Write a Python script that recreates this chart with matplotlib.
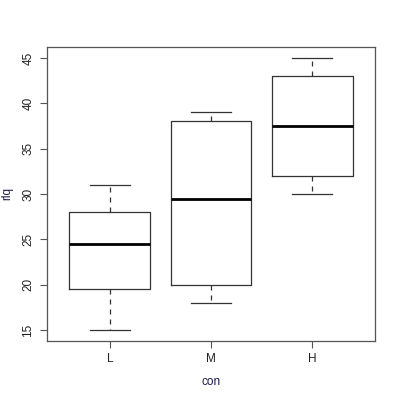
import matplotlib
matplotlib.use('agg')
import matplotlib.pyplot as plt

# boxplot stats
groups = ["L", "M", "H"]
whislo = [15, 18, 30]
q1 = [19.5, 20, 32]
med = [24.5, 29.5, 37.5]
q3 = [28, 38, 43]
whishi = [31, 39, 45]

plt.rcParams['font.family'] = ['Liberation Sans', 'DejaVu Sans']

stats = []
for i, g in enumerate(groups):
    stats.append({"label": g, "whislo": whislo[i], "q1": q1[i], "med": med[i],
                  "q3": q3[i], "whishi": whishi[i], "fliers": []})

fig = plt.figure(figsize=(4, 4), dpi=100)
ax = fig.add_axes([0.1175, 0.1475, 0.82, 0.735])

ax.bxp(stats, positions=[1, 2, 3], widths=0.8, showfliers=False,
       boxprops=dict(color="#333333", linewidth=0.9),
       whiskerprops=dict(color="#333333", linewidth=0.9, linestyle=(0, (4, 4))),
       capprops=dict(color="#333333", linewidth=0.9),
       medianprops=dict(color="black", linewidth=2.0),
       capwidths=0.4)

ax.set_xlim(0.38, 3.62)
ax.set_ylim(13.8, 46.2)
ax.set_yticks([15, 20, 25, 30, 35, 40, 45])
ax.set_xticks([1, 2, 3])
ax.set_xticklabels(groups)
for lbl in ax.get_yticklabels():
    lbl.set_rotation(90)
    lbl.set_va("center")
ax.tick_params(direction="out", length=5, width=0.8, color="#555555",
               labelsize=8.5, labelcolor="#222222", pad=4)
for s in ax.spines.values():
    s.set_color("#555555")
    s.set_linewidth(0.9)

ax.set_xlabel("con", fontsize=8.5, color="#1a1a4a")
ax.set_ylabel("rlq", fontsize=8.5, color="#1a1a4a")
ax.xaxis.set_label_coords(0.5, -0.12)
ax.yaxis.set_label_coords(-0.103, 0.5)

plt.savefig("out.png", dpi=100)
